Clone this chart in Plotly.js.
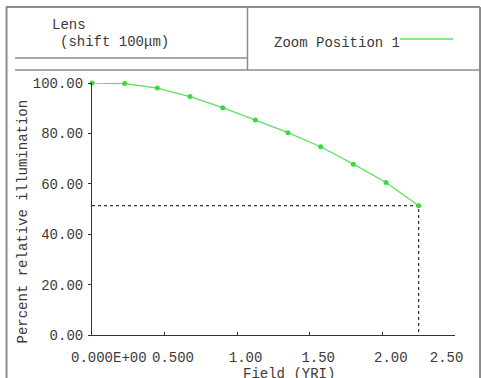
<!DOCTYPE html>
<html>
<head>
<meta charset="utf-8">
<script src="https://cdn.plot.ly/plotly-3.0.1.min.js"></script>
<style>html,body{margin:0;padding:0;background:#fff;}#chart{width:481px;height:378px;}</style>
</head>
<body>
<div id="chart"></div>
<script>
// ---- data ----
const fieldYRI = [0, 0.225, 0.45, 0.675, 0.9, 1.125, 1.35, 1.575, 1.8, 2.025, 2.25];
const relIllum = [100.0, 99.8, 98.0, 94.6, 90.2, 85.3, 80.3, 74.7, 67.8, 60.5, 51.3];
const xTickVals = [0, 0.5, 1.0, 1.5, 2.0, 2.5];
const xTickLabels = ["0.000E+00", "0.500", "1.00", "1.50", "2.00", "2.50"];
const yTickVals = [0, 20, 40, 60, 80, 100];
const yTickLabels = ["0.00", "20.00", "40.00", "60.00", "80.00", "100.00"];
const seriesName = "Zoom Position 1";
const headerLines = ["Lens", "(shift 100\u03bcm)"];
const xTitle = "Field (YRI)";
const yTitle = "Percent relative illumination";

// ---- layout helpers (pixels -> paper) ----
const W = 481, H = 378;
const L = 92, R = 455, T = 83, B = 335;
const fx = px => (px - L) / (R - L);
const fy = py => (B - py) / (B - T);
const NB = "\u00a0";
const lead = [4, 2, 2, 2, 2, 0], trail = [0, 0, 0, 0, 0, 2];
const xTickText = xTickLabels.map((s, i) => NB.repeat(lead[i]) + s + NB.repeat(trail[i]));

const lastX = fieldYRI[fieldYRI.length - 1];
const lastY = relIllum[relIllum.length - 1];

const font = {family: "Liberation Mono, Courier New, monospace", size: 14, color: "#3a3a3a"};
const green = "#5fe05f";
const frame = "#8c8c8c";

const traces = [
  {
    x: [0, lastX, lastX], y: [lastY, lastY, 0],
    mode: "lines", line: {color: "#000", width: 1, dash: "3px,3px"},
    hoverinfo: "skip", cliponaxis: false
  },
  {
    x: fieldYRI, y: relIllum, name: seriesName,
    mode: "lines+markers",
    line: {color: green, width: 1.3},
    marker: {color: "#3ed83e", size: 5},
    cliponaxis: false
  }
];

function hline(x0, x1, y, w) {
  return {type: "line", xref: "paper", yref: "paper", x0: fx(x0), x1: fx(x1), y0: fy(y), y1: fy(y), line: {color: frame, width: w || 1.5}};
}
function vline(x, y0, y1, w) {
  return {type: "line", xref: "paper", yref: "paper", x0: fx(x), x1: fx(x), y0: fy(y0), y1: fy(y1), line: {color: frame, width: w || 1.5}};
}

const shapes = [
  hline(6, 480, 7, 2),
  vline(6.5, 7, 400, 2),
  vline(480, 7, 400, 2),
  vline(247.5, 7, 70),
  hline(15, 247.5, 58),
  hline(15, 480, 70),
  {type: "line", xref: "paper", yref: "paper", x0: fx(400), x1: fx(453), y0: fy(39), y1: fy(39), line: {color: green, width: 1.3}}
];

const annotations = [
  {text: headerLines[0], x: fx(50), y: fy(25), xanchor: "left", yanchor: "middle"},
  {text: headerLines[1], x: fx(58), y: fy(42), xanchor: "left", yanchor: "middle"},
  {text: seriesName, x: fx(272), y: fy(43.5), xanchor: "left", yanchor: "middle"},
  {text: xTitle, x: fx(289), y: fy(374), xanchor: "center", yanchor: "middle"},
  {text: yTitle, x: fx(22), y: fy(221.5), xanchor: "center", yanchor: "middle", textangle: -90}
].map(a => Object.assign({xref: "paper", yref: "paper", showarrow: false, font: font}, a));

const layout = {
  width: W, height: H,
  margin: {l: L, r: W - R, t: T, b: H - B, pad: 0},
  paper_bgcolor: "#fff", plot_bgcolor: "#fff",
  showlegend: false,
  font: font,
  xaxis: {
    range: [0, 2.5], tickvals: xTickVals, ticktext: xTickText, tickangle: 0,
    showgrid: false, zeroline: false, showline: true, linecolor: "#333", linewidth: 1,
    ticks: "inside", ticklen: 3, tickcolor: "#333", tickfont: font,
    ticklabelstandoff: 9, fixedrange: true
  },
  yaxis: {
    range: [0, 100], tickvals: yTickVals, ticktext: yTickLabels,
    showgrid: false, zeroline: false, showline: true, linecolor: "#333", linewidth: 1,
    ticks: "outside", ticklen: 3, tickcolor: "#333", tickfont: font,
    ticklabelstandoff: 2, fixedrange: true
  },
  shapes: shapes,
  annotations: annotations
};

Plotly.newPlot("chart", traces, layout, {staticPlot: true, displayModeBar: false});
</script>
</body>
</html>
